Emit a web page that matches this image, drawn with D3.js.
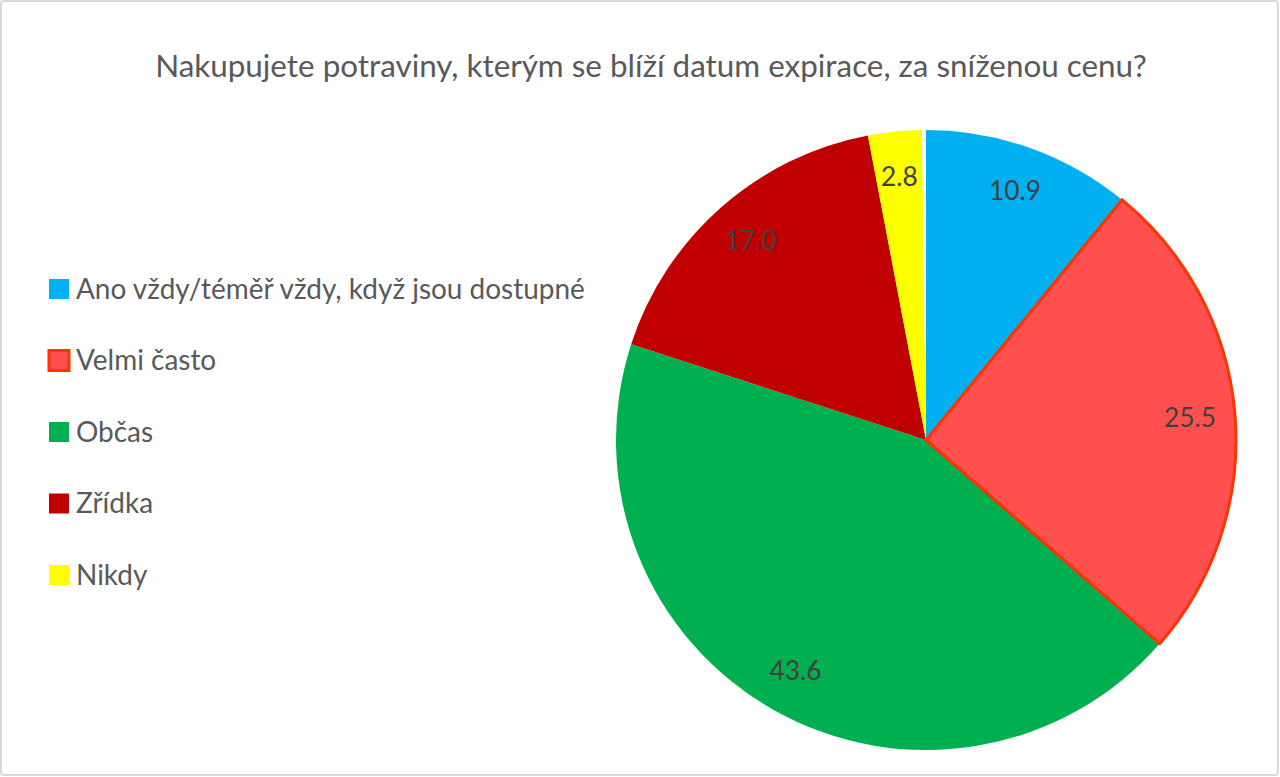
<!DOCTYPE html>
<html>
<head>
<meta charset="utf-8">
<script src="https://cdn.jsdelivr.net/npm/d3@7"></script>
<style>
  html, body { margin: 0; padding: 0; background: #fff; }
  svg { display: block; }
  text { font-family: Lato, "Open Sans", sans-serif; }
</style>
</head>
<body>
<svg id="chart" width="1280" height="777"></svg>
<script>
// ---- data ----
const title = "Nakupujete potraviny, kterým se blíží datum expirace, za sníženou cenu?";
const categories = ["Ano vždy/téměř vždy, když jsou dostupné", "Velmi často", "Občas", "Zřídka", "Nikdy", ""];
const values = [10.9, 25.5, 43.6, 17.0, 2.8, 0.2];
const labels = ["10.9", "25.5", "43.6", "17.0", "2.8", ""];
const legendCategories = categories.slice(0, 5);

// ---- styles ----
const fills = ["#00B0F0", "#FF5050", "#00B050", "#C00000", "#FFFF00", "#FFFFFF"];
const strokes = ["none", "#FF3300", "none", "none", "none", "none"];
const color = d3.scaleOrdinal().domain(categories).range(fills);
const strokeColor = d3.scaleOrdinal().domain(categories).range(strokes);

const W = 1280, H = 777;
const cx = 926, cy = 440, R = 310;

const svg = d3.select("#chart");

// frame
svg.append("rect")
  .attr("x", 1).attr("y", 1).attr("width", W - 3).attr("height", H - 3)
  .attr("rx", 3)
  .attr("fill", "#fff").attr("stroke", "#d9d9d9").attr("stroke-width", 2);

function fitWidth(sel, target) {
  const w = sel.node().getComputedTextLength();
  const fs = parseFloat(sel.attr("font-size"));
  sel.attr("font-size", fs * target / w);
  return fs * target / w;
}

// title
const t = svg.append("text")
  .attr("x", 651).attr("y", 77)
  .attr("text-anchor", "middle")
  .attr("font-size", 28)
  .attr("fill", "#595959")
  .text(title);
fitWidth(t, 992);

// pie
const pie = d3.pie().sort(null).value(d => d.value).startAngle(0).endAngle(2 * Math.PI);
const data = categories.map((c, i) => ({ cat: c, value: values[i], label: labels[i] }));
const arcs = pie(data);
const arc = d3.arc().innerRadius(0).outerRadius(R);
const labelArc = d3.arc().innerRadius(265).outerRadius(265);

const g = svg.append("g").attr("transform", `translate(${cx},${cy})`);

g.selectAll("path.slice")
  .data(arcs)
  .join("path")
  .attr("class", "slice")
  .attr("d", arc)
  .attr("fill", d => color(d.data.cat))
  .attr("stroke", d => strokeColor(d.data.cat))
  .attr("stroke-width", d => strokeColor(d.data.cat) === "none" ? 0 : 3)
  .attr("stroke-linejoin", "miter");

// bring stroked slice to front
g.selectAll("path.slice").filter(d => strokeColor(d.data.cat) !== "none").raise();

const lbl = g.selectAll("text.lbl")
  .data(arcs.filter(d => d.data.label !== ""))
  .join("text")
  .attr("class", "lbl")
  .attr("transform", d => `translate(${labelArc.centroid(d)})`)
  .attr("text-anchor", "middle")
  .attr("dy", "0.35em")
  .attr("font-size", 26)
  .attr("fill", "#404040")
  .text(d => d.data.label);

// fit label font size so "43.6" ≈ 52px wide
const probe = lbl.filter(d => d.data.label === "43.6");
const lfs = parseFloat(probe.attr("font-size")) * 52 / probe.node().getComputedTextLength();
lbl.attr("font-size", lfs);

// legend
const legendY = d3.scalePoint().domain(legendCategories).range([289, 575]);
const leg = svg.append("g");
const items = leg.selectAll("g.item")
  .data(legendCategories)
  .join("g")
  .attr("class", "item")
  .attr("transform", d => `translate(49,${legendY(d)})`);

items.append("rect")
  .attr("x", 0).attr("y", -10)
  .attr("width", 20).attr("height", 20)
  .attr("fill", d => color(d))
  .attr("stroke", d => strokeColor(d) === "none" ? "none" : strokeColor(d))
  .attr("stroke-width", d => strokeColor(d) === "none" ? 0 : 3);

const ltext = items.append("text")
  .attr("x", 27).attr("y", 0)
  .attr("dy", "0.35em")
  .attr("font-size", 25)
  .attr("fill", "#595959")
  .text(d => d);

const first = ltext.filter((d, i) => i === 0);
const legFs = parseFloat(first.attr("font-size")) * 509 / first.node().getComputedTextLength();
ltext.attr("font-size", legFs);
</script>
</body>
</html>
